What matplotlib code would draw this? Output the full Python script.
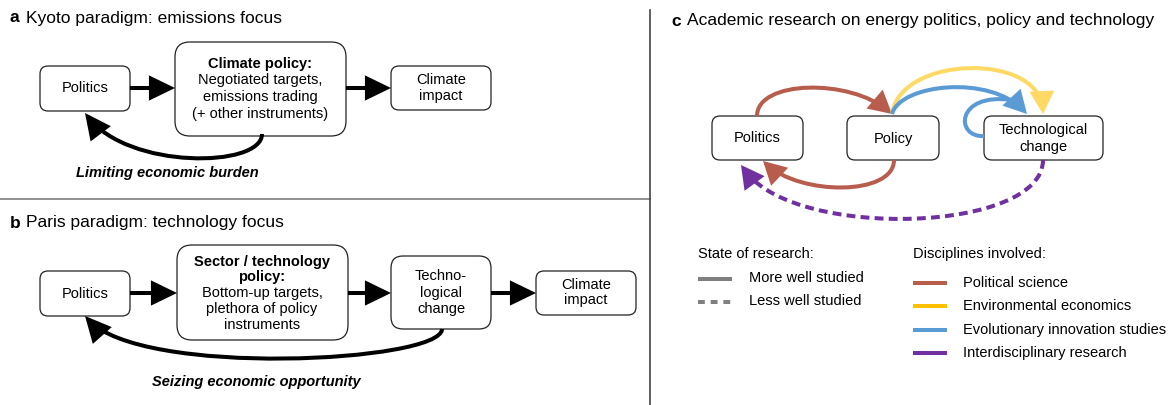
import matplotlib
matplotlib.use('Agg')
import matplotlib.pyplot as plt
from matplotlib.patches import FancyBboxPatch, FancyArrowPatch
from matplotlib.path import Path

plt.rcParams['font.family'] = ['Liberation Sans', 'DejaVu Sans']

# --- texts ---
panel_letters = ['a', 'b', 'c']
panel_titles = ['Kyoto paradigm: emissions focus',
                'Paris paradigm: technology focus',
                'Academic research on energy politics, policy and technology']
kyoto_policy_head = 'Climate policy:'
kyoto_policy_body = 'Negotiated targets,\nemissions trading\n(+ other instruments)'
paris_policy_head = 'Sector / technology\npolicy:'
paris_policy_body = 'Bottom-up targets,\nplethora of policy\ninstruments'
kyoto_feedback = 'Limiting economic burden'
paris_feedback = 'Seizing economic opportunity'
research_nodes = ['Politics', 'Policy', 'Technological\nchange']

state_title = 'State of research:'
state_labels = ['More well studied', 'Less well studied']
state_styles = ['-', (0, (1.7, 1.45))]
discipline_title = 'Disciplines involved:'
discipline_labels = ['Political science', 'Environmental economics',
                     'Evolutionary innovation studies', 'Interdisciplinary research']
discipline_colors = ['#B85C4D', '#FFC000', '#5B9BD5', '#7030A0']
yellow_arrow = '#FFD966'
grey = '#808080'

FS = 10.5

fig = plt.figure(figsize=(11.7, 4.05), dpi=100)
ax = fig.add_axes([0, 0, 1, 1])
ax.set_xlim(0, 1170)
ax.set_ylim(405, 0)
ax.axis('off')


def box(x0, y0, x1, y1, r=8):
    ax.add_patch(FancyBboxPatch((x0, y0), x1 - x0, y1 - y0,
                                boxstyle=f'round,pad=0,rounding_size={r}',
                                fc='white', ec='#222222', lw=0.9, zorder=2))


def arrow(pts, color='black', lw=2.9, hl=14, hw=6.8, ls='-', head=True):
    codes = [Path.MOVETO] + [Path.CURVE4] * (len(pts) - 1) if len(pts) > 2 else [Path.MOVETO, Path.LINETO]
    style = f'-|>,head_length={hl},head_width={hw}' if head else '-'
    ax.add_patch(FancyArrowPatch(path=Path(pts, codes), arrowstyle=style,
                                 mutation_scale=1, color=color, lw=lw,
                                 linestyle=ls, zorder=3, capstyle='butt',
                                 joinstyle='miter'))


def title(x, letter, text, y):
    ax.text(x, y, letter, fontsize=12.5, fontweight='bold', va='center', ha='left')
    ax.text(x + 16, y, text, fontsize=12.5, va='center', ha='left')


# separators
ax.plot([0, 650], [199, 199], color='#7f7f7f', lw=1.2)
ax.plot([650, 650], [10, 405], color='#444444', lw=1.2)

# ---------------- panel a ----------------
title(10, panel_letters[0], panel_titles[0], 18)
box(40, 66, 130, 111)
ax.text(85, 88.5, 'Politics', fontsize=FS, ha='center', va='center', zorder=4)
box(175, 42, 346, 136, r=15)
ax.text(260, 64, kyoto_policy_head, fontsize=FS, fontweight='bold', ha='center', va='center', zorder=4)
ax.text(260, 97, kyoto_policy_body, fontsize=FS, ha='center', va='center', linespacing=1.25, zorder=4)
box(391, 66, 491, 110)
ax.text(441, 88, 'Climate\nimpact', fontsize=FS, ha='center', va='center', linespacing=1.12, zorder=4)
arrow([(130, 88), (175, 88)])
arrow([(346, 88), (391, 88)])
arrow([(262, 134), (262, 168), (128, 170), (85, 113)])
ax.text(167, 173, kyoto_feedback, fontsize=FS, fontweight='bold', style='italic',
        ha='center', va='center')

# ---------------- panel b ----------------
title(10, panel_letters[1], panel_titles[1], 223)
box(40, 271, 130, 316)
ax.text(85, 293.5, 'Politics', fontsize=FS, ha='center', va='center', zorder=4)
box(177, 245, 348, 340, r=15)
ax.text(262, 269.5, paris_policy_head, fontsize=FS, fontweight='bold', ha='center', va='center',
        linespacing=1.12, zorder=4)
ax.text(262, 309, paris_policy_body, fontsize=FS, ha='center', va='center', linespacing=1.2, zorder=4)
box(391, 256, 491, 329, r=12)
ax.text(441, 292.5, 'Techno-\nlogical\nchange', fontsize=FS, ha='center', va='center',
        linespacing=1.22, zorder=4)
box(536, 271, 636, 315)
ax.text(586, 292.5, 'Climate\nimpact', fontsize=FS, ha='center', va='center', linespacing=1.12, zorder=4)
arrow([(130, 293), (177, 293)])
arrow([(348, 293), (391, 293)])
arrow([(491, 293), (536, 293)])
arrow([(442, 329), (442, 362), (140, 378), (85, 316)])
ax.text(256, 382, paris_feedback, fontsize=FS, fontweight='bold', style='italic',
        ha='center', va='center')

# ---------------- panel c ----------------
title(671, panel_letters[2], panel_titles[2], 21)
cx = [757, 893, 1043]
box(712, 116, 803, 160)
box(847, 116, 939, 160)
box(984, 116, 1103, 160)
for x, lab in zip(cx, research_nodes):
    ax.text(x, 138.5, lab, fontsize=FS, ha='center', va='center', linespacing=1.22, zorder=4)

hl_c, hw_c = 12, 6.5
# political science
arrow([(757, 116), (757, 80), (850, 78), (892, 114)], color=discipline_colors[0], hl=hl_c, hw=hw_c)
arrow([(894, 160), (894, 196), (800, 196), (763, 161)], color=discipline_colors[0], hl=hl_c, hw=hw_c)
# environmental economics
arrow([(892, 114), (900, 55), (1040, 52), (1043, 114)], color=yellow_arrow, hl=hl_c, hw=hw_c)
# evolutionary innovation studies
arrow([(892, 114), (900, 84), (990, 74), (1027, 114)], color=discipline_colors[2], hl=hl_c, hw=hw_c)
arrow([(984, 136), (955, 138), (955, 92), (1012, 100)], color=discipline_colors[2], head=False)
# interdisciplinary: dashed body, solid head
arrow([(1043, 160), (1043, 232), (800, 240), (747, 173)], color=discipline_colors[3],
      ls=(0, (2.2, 1.3)), head=False)
arrow([(752, 180), (741, 165)], color=discipline_colors[3], hl=hl_c, hw=hw_c)

# legend
ax.text(698, 254, state_title, fontsize=FS, va='center', ha='left')
for i, (lab, st) in enumerate(zip(state_labels, state_styles)):
    y = 279 + 23 * i
    ax.plot([698, 732], [y, y], color=grey, lw=2.9, linestyle=st, solid_capstyle='butt',
            dash_capstyle='butt')
    ax.text(749, y - 1, lab, fontsize=FS, va='center', ha='left')

ax.text(913, 254, discipline_title, fontsize=FS, va='center', ha='left')
for i, (lab, c) in enumerate(zip(discipline_labels, discipline_colors)):
    y = 283 + 23.3 * i
    ax.plot([913, 947], [y, y], color=c, lw=2.9, solid_capstyle='butt')
    ax.text(963, y, lab, fontsize=FS, va='center', ha='left')

fig.savefig('out.png', dpi=100)
